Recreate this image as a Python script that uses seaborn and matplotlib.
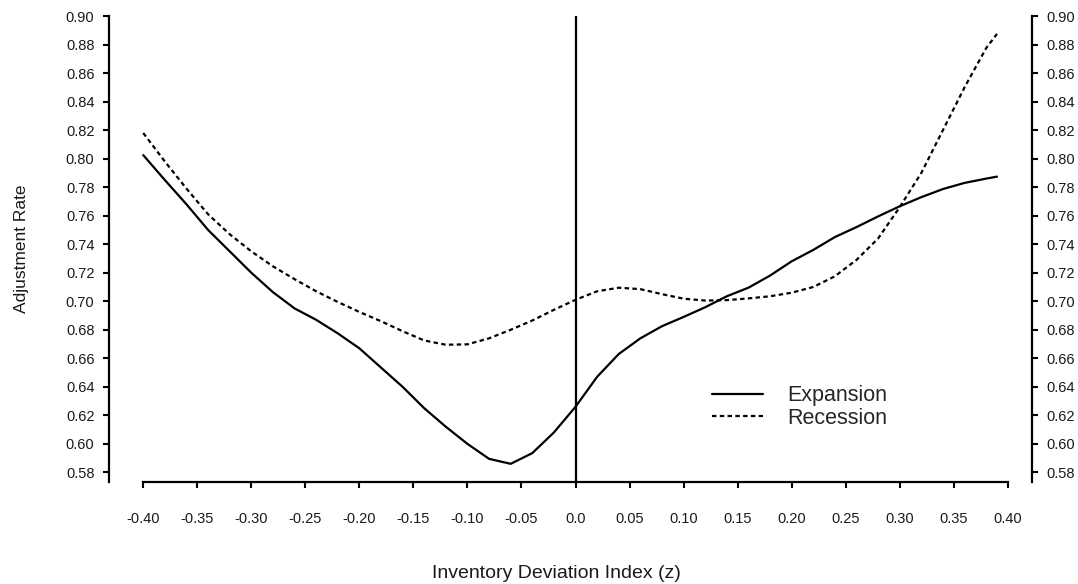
import numpy as np
import pandas as pd
import matplotlib
matplotlib.use("Agg")
import matplotlib.pyplot as plt
import seaborn as sns

# valeurs
z = [-0.40, -0.38, -0.36, -0.34, -0.32, -0.30, -0.28, -0.26, -0.24, -0.22,
     -0.20, -0.18, -0.16, -0.14, -0.12, -0.10, -0.08, -0.06, -0.04, -0.02,
     0.00, 0.02, 0.04, 0.06, 0.08, 0.10, 0.12, 0.14, 0.16, 0.18,
     0.20, 0.22, 0.24, 0.26, 0.28, 0.30, 0.32, 0.34, 0.36, 0.38, 0.39]

expansion = [0.8025, 0.785, 0.768, 0.750, 0.735, 0.7200, 0.7064, 0.695, 0.687, 0.6775,
             0.667, 0.6535, 0.640, 0.625, 0.612, 0.600, 0.5895, 0.586, 0.5935, 0.608,
             0.626, 0.647, 0.663, 0.674, 0.6825, 0.689, 0.6958, 0.7035, 0.7095, 0.718,
             0.728, 0.736, 0.745, 0.752, 0.7595, 0.7666, 0.773, 0.7787, 0.783, 0.786, 0.7874]

recession = [0.818, 0.798, 0.779, 0.761, 0.747, 0.735, 0.7245, 0.7155, 0.707, 0.6995,
             0.6925, 0.686, 0.679, 0.6725, 0.6695, 0.6698, 0.674, 0.680, 0.6865, 0.694,
             0.701, 0.707, 0.7095, 0.7085, 0.705, 0.7018, 0.7005, 0.7008, 0.702, 0.7035,
             0.706, 0.710, 0.7175, 0.729, 0.744, 0.766, 0.790, 0.820, 0.850, 0.8775, 0.8875]

series = ['Expansion', 'Recession']
x_ticks = [-0.40, -0.35, -0.30, -0.25, -0.20, -0.15, -0.10, -0.05, 0.0,
           0.05, 0.10, 0.15, 0.20, 0.25, 0.30, 0.35, 0.40]
x_labels = ['-0.40', '-0.35', '-0.30', '-0.25', '-0.20', '-0.15', '-0.10', '-0.05', '0.0',
            '0.05', '0.10', '0.15', '0.20', '0.25', '0.30', '0.35', '0.40']
y_ticks = [0.58, 0.60, 0.62, 0.64, 0.66, 0.68, 0.70, 0.72, 0.74, 0.76, 0.78,
           0.80, 0.82, 0.84, 0.86, 0.88, 0.90]

df = pd.DataFrame({
    'z': z * 2,
    'rate': expansion + recession,
    'regime': [series[0]] * len(z) + [series[1]] * len(z),
})

sns.set_theme(style='white')
plt.rcParams['font.family'] = ['Liberation Sans', 'DejaVu Sans']
plt.rcParams['lines.solid_joinstyle'] = 'round'
plt.rcParams['lines.dash_joinstyle'] = 'round'

fig = plt.figure(figsize=(10.78, 5.84), dpi=100)
ax = fig.add_axes([0.1011, 0.1755, 0.856, 0.797])

sns.lineplot(data=df, x='z', y='rate', style='regime', color='black',
             dashes={'Expansion': '', 'Recession': (2, 1.5)},
             linewidth=1.6, ax=ax, legend=True)

ax.axvline(0, color='black', linewidth=1.6)

ax.set_xlim(-0.4317, 0.4222)
ax.set_ylim(0.5736, 0.90)

ax.set_xticks(x_ticks)
ax.set_xticklabels(x_labels)
ax.set_yticks(y_ticks)
ax.set_yticklabels([f'{v:.2f}' for v in y_ticks])

for side in ['left', 'right', 'bottom']:
    ax.spines[side].set_visible(True)
    ax.spines[side].set_color('black')
    ax.spines[side].set_linewidth(1.6)
ax.spines['top'].set_visible(False)
ax.spines['bottom'].set_bounds(-0.40, 0.40)

ax.tick_params(axis='y', which='both', left=True, right=True, labelleft=True,
               labelright=True, direction='out', length=4, width=1.5,
               pad=6.5, labelsize=10.5, colors='black', labelcolor='#1a1a1a')
ax.tick_params(axis='x', bottom=True, direction='out', length=4, width=1.5,
               pad=18, labelsize=10.5, colors='black', labelcolor='#1a1a1a')

ax.set_xlabel('Inventory Deviation Index (z)', fontsize=14, color='#1a1a1a')
ax.xaxis.label.set_va('center')
ax.xaxis.set_label_coords(0.4845, -0.1966)
ax.set_ylabel('Adjustment Rate', fontsize=12.5, color='#1a1a1a')
ax.yaxis.label.set_va('center')
ax.yaxis.set_label_coords(-0.0943, 0.5)

leg = ax.legend(loc='center left', bbox_to_anchor=(0.6535, 0.16), frameon=False,
                fontsize=15.5, handlelength=2.35, handletextpad=1.15,
                labelspacing=0.05, borderpad=0, borderaxespad=0)
for line in leg.get_lines():
    line.set_linewidth(1.6)

plt.savefig('out.png', dpi=100)
